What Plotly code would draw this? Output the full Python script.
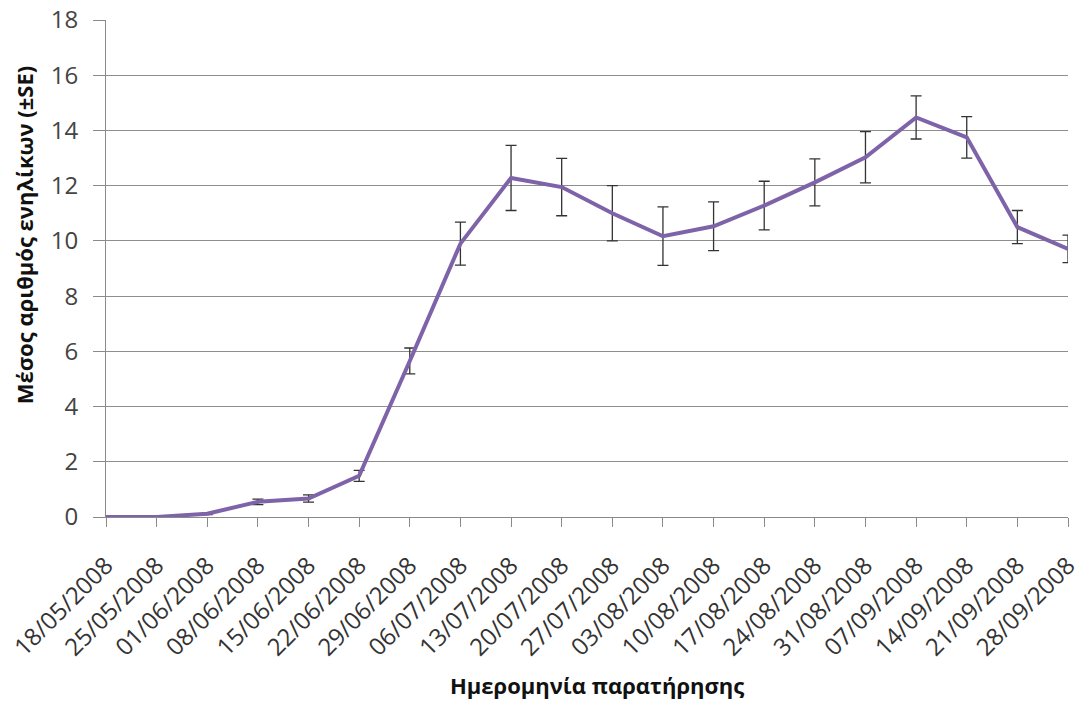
import plotly.graph_objects as go

dates = ["18/05/2008", "25/05/2008", "01/06/2008", "08/06/2008", "15/06/2008",
         "22/06/2008", "29/06/2008", "06/07/2008", "13/07/2008", "20/07/2008",
         "27/07/2008", "03/08/2008", "10/08/2008", "17/08/2008", "24/08/2008",
         "31/08/2008", "07/09/2008", "14/09/2008", "21/09/2008", "28/09/2008"]
mean_adults = [0.0, 0.0, 0.12, 0.55, 0.67, 1.49, 5.65, 9.9, 12.28, 11.95,
               11.0, 10.17, 10.53, 11.28, 12.12, 13.03, 14.47, 13.75, 10.5, 9.71]
se = [0, 0, 0.03, 0.1, 0.13, 0.2, 0.47, 0.78, 1.18, 1.04,
      1.0, 1.06, 0.88, 0.88, 0.85, 0.93, 0.78, 0.75, 0.6, 0.5]
y_ticks = [0, 2, 4, 6, 8, 10, 12, 14, 16, 18]

idx = list(range(len(dates)))

fig = go.Figure()
fig.add_trace(go.Scatter(
    x=idx, y=mean_adults, mode="lines",
    line=dict(color="#7F63A8", width=4),
    error_y=dict(type="data", array=se, visible=True,
                 color="#333333", thickness=1.3, width=5.5),
    showlegend=False, cliponaxis=False))

font = "Open Sans"
fig.update_layout(
    width=1083, height=703,
    margin=dict(l=106, r=15, t=20, b=186),
    paper_bgcolor="white", plot_bgcolor="white",
    font=dict(family=font, color="#222222"),
    xaxis=dict(
        range=[0, 19], tickvals=idx, ticktext=dates, tickangle=-45,
        tickfont=dict(size=24, color="#333333"),
        ticks="outside", ticklen=9, tickcolor="#8a8a8a",
        ticklabelstandoff=15, ticklabeloverflow="allow",
        showgrid=False, showline=True, linecolor="#8a8a8a", linewidth=1,
        zeroline=False, automargin=False),
    yaxis=dict(
        range=[0, 18], tickvals=y_ticks,
        tickfont=dict(size=24, color="#444444"),
        ticks="outside", ticklen=12, tickcolor="#8a8a8a",
        ticklabelstandoff=10, ticklabeloverflow="allow",
        showgrid=True, gridcolor="#8e8e8e", gridwidth=1,
        showline=True, linecolor="#8a8a8a", linewidth=1,
        zeroline=False, automargin=False),
    annotations=[
        dict(text="<b>Μέσος αριθμός ενηλίκων (±SE)</b>", textangle=-90,
             xref="paper", yref="paper", x=0, y=0.567, xshift=-82,
             xanchor="center", yanchor="middle", showarrow=False,
             font=dict(size=22, color="#111111")),
        dict(text="<b>Ημερομηνία παρατήρησης</b>",
             xref="paper", yref="paper", x=0.51, y=0, yshift=-168,
             xanchor="center", yanchor="middle", showarrow=False,
             font=dict(size=22, color="#111111")),
    ],
)

# drop the default 8px body margin so the figure fills the window
fig.write_html("out.html", config={"displayModeBar": False},
               post_script="document.body.style.margin = '0';")
